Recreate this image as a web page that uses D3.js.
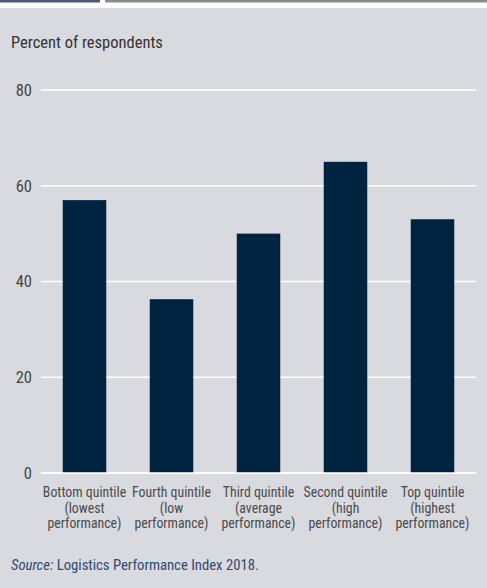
<!DOCTYPE html>
<html><head><meta charset="utf-8">
<script src="https://cdn.jsdelivr.net/npm/d3@7"></script>
<style>
html,body{margin:0;padding:0;background:#fff;}
svg{display:block;}
</style></head>
<body>
<script>
const categories = [
  ["Bottom quintile","(lowest","performance)"],
  ["Fourth quintile","(low","performance)"],
  ["Third quintile","(average","performance)"],
  ["Second quintile","(high","performance)"],
  ["Top quintile","(highest","performance)"]
];
const values = [57, 36.3, 50, 65, 53];
const yTicks = [0, 20, 40, 60, 80];
const yLabel = "Percent of respondents";

const W = 487, H = 588;
const font = "'Liberation Sans Narrow','Roboto Condensed','Liberation Sans',Arial,sans-serif";
const svg = d3.select("body").append("svg").attr("width", W).attr("height", H);

svg.append("rect").attr("x",0).attr("y",8).attr("width",W).attr("height",H-8).attr("fill","#d9dadf");
svg.append("rect").attr("x",0).attr("y",0).attr("width",100).attr("height",2.5).attr("fill","#4b5a78");
svg.append("rect").attr("x",105).attr("y",0).attr("width",W-105).attr("height",2.5).attr("fill","#8b8c91");

const x = d3.scaleBand().domain(d3.range(categories.length)).range([41, 476]).paddingInner(0.5).paddingOuter(0.25);
const y = d3.scaleLinear().domain([0, 80]).range([473, 90]);

// gridlines
svg.append("g").selectAll("line").data(yTicks).join("line")
  .attr("x1", 41).attr("x2", 476)
  .attr("y1", d => y(d)).attr("y2", d => y(d))
  .attr("stroke", "#fff").attr("stroke-width", 1.6);

// y tick labels
svg.append("g").selectAll("text").data(yTicks).join("text")
  .attr("x", 32).attr("y", d => y(d)).attr("dy", "0.36em")
  .attr("text-anchor", "end").attr("font-family", font).attr("font-size", 16.5)
  .attr("fill", "#444").text(d => d);

// bars
svg.append("g").selectAll("rect").data(values).join("rect")
  .attr("x", (d,i) => x(i)).attr("width", x.bandwidth())
  .attr("y", d => y(d)).attr("height", d => y(0) - y(d))
  .attr("fill", "#00233f");

// redraw baseline over bars
svg.append("line").attr("x1",41).attr("x2",476).attr("y1",y(0)).attr("y2",y(0))
  .attr("stroke","#fff").attr("stroke-width",1.6);

// x labels
const xl = svg.append("g").selectAll("text").data(categories).join("text")
  .attr("text-anchor","middle").attr("font-family", font).attr("font-size", 13.8)
  .attr("fill","#4a4a4a");
xl.each(function(lines, i){
  const t = d3.select(this);
  lines.forEach((l, j) => {
    t.append("tspan").attr("x", x(i) + x.bandwidth()/2).attr("y", 497 + j*15.5).text(l);
  });
});

// y axis title
svg.append("text").attr("x", 11).attr("y", 48).attr("font-family", font).attr("font-size", 16.5)
  .attr("fill","#333").text(yLabel);

// source
const src = svg.append("text").attr("x", 11).attr("y", 570).attr("font-family", font).attr("font-size", 14.7)
  .attr("fill","#2c4a6b");
src.append("tspan").attr("font-style","italic").text("Source:");
src.append("tspan").text(" Logistics Performance Index 2018.");
</script>
</body></html>
